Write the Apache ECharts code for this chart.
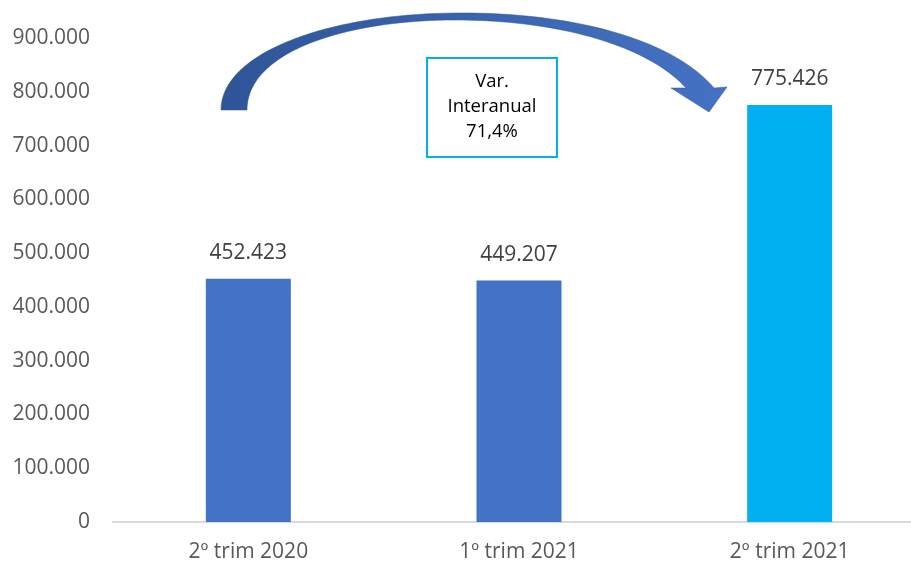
<!DOCTYPE html>
<html>
<head>
<meta charset="utf-8">
<script src="https://cdn.jsdelivr.net/npm/echarts@6/dist/echarts.min.js"></script>
<style>html,body{margin:0;padding:0;background:#fff;overflow:hidden;width:911px;height:564px}#c{width:925px;height:564px}</style>
</head>
<body>
<div id="c"></div>
<script>
const categories = ['2º trim 2020', '1º trim 2021', '2º trim 2021'];
const values = [452423, 449207, 775426];
const barColors = ['#4472C4', '#4472C4', '#00B0F0'];
const boxLines = ['Var.', 'Interanual', '71,4%'];

function fmt(v) {
  return String(v).replace(/\B(?=(\d{3})+(?!\d))/g, '.');
}

// decorative curved arrow outline, sampled from cubic bezier segments
function cubic(p0, p1, p2, p3, n) {
  const out = [];
  for (let i = 0; i <= n; i++) {
    const t = i / n, u = 1 - t;
    out.push([
      u*u*u*p0[0] + 3*u*u*t*p1[0] + 3*u*t*t*p2[0] + t*t*t*p3[0],
      u*u*u*p0[1] + 3*u*u*t*p1[1] + 3*u*t*t*p2[1] + t*t*t*p3[1]
    ]);
  }
  return out;
}
const arrowPts = [].concat(
  cubic([221,110],[221,52],[330,14],[455,13], 40),
  cubic([455,13],[580,12],[675,42],[714,88], 40),
  [[727,87],[709,112],[671,88]],
  cubic([686,88],[648,46],[560,20],[455,20], 40),
  cubic([455,20],[345,20],[247,52],[247,110], 40)
);

const FONT = '"Open Sans", sans-serif';
const chart = echarts.init(document.getElementById('c'));
chart.setOption({
  animation: false,
  grid: { left: 113, right: 0, top: 38, bottom: 42 },
  xAxis: {
    type: 'category',
    data: categories,
    axisLine: { show: true, lineStyle: { color: '#D9D9D9', width: 2 } },
    axisTick: { show: false },
    axisLabel: { color: '#595959', fontSize: 21, fontFamily: FONT, margin: 20 }
  },
  yAxis: {
    type: 'value',
    min: 0, max: 900000, interval: 100000,
    axisLine: { show: false },
    axisTick: { show: false },
    splitLine: { show: false },
    axisLabel: { color: '#595959', fontSize: 21, fontFamily: FONT, margin: 23, formatter: v => fmt(v) }
  },
  series: [{
    type: 'bar',
    barWidth: 85,
    data: values.map((v, i) => ({ value: v, itemStyle: { color: barColors[i] } })),
    label: {
      show: true, position: 'top', distance: 15,
      color: '#404040', fontSize: 21, fontFamily: FONT,
      formatter: p => fmt(p.value)
    }
  }],
  graphic: [
    {
      type: 'polygon',
      shape: { points: arrowPts },
      style: {
        fill: {
          type: 'linear', x: 0, y: 0, x2: 1, y2: 0,
          colorStops: [
            { offset: 0, color: '#2F5597' },
            { offset: 1, color: '#4472C4' }
          ]
        },
        stroke: '#2F5597', lineWidth: 0.5
      }
    },
    {
      type: 'rect',
      shape: { x: 427, y: 58, width: 130, height: 99 },
      style: { fill: '#FFFFFF', stroke: '#00B0F0', lineWidth: 2 }
    },
    {
      type: 'text',
      x: 492, y: 107,
      style: {
        text: boxLines.join('\n'),
        fill: '#000000', fontSize: 18.5, fontFamily: FONT,
        lineHeight: 25, align: 'center', verticalAlign: 'middle'
      }
    }
  ]
});
</script>
</body>
</html>
